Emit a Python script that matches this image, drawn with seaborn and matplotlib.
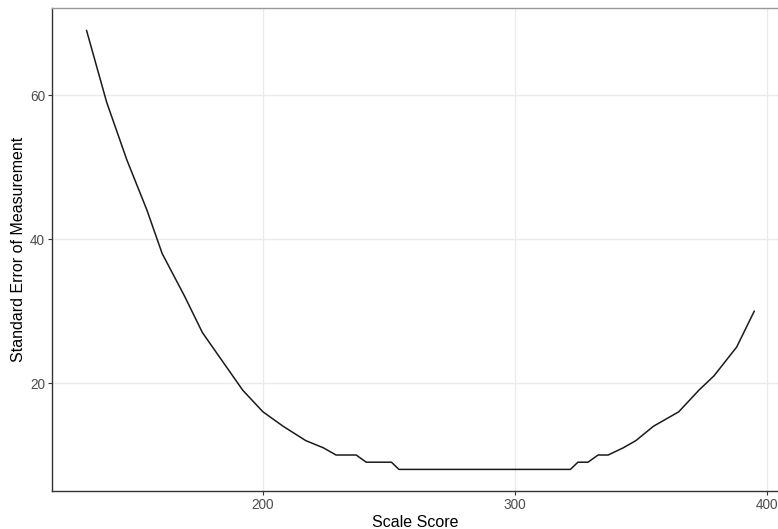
import pandas as pd
import seaborn as sns
import matplotlib.pyplot as plt

scale_score = [130, 138, 146, 154, 160, 169, 176, 184, 192, 200, 208, 217, 224,
               229, 237, 241, 251, 254, 322, 325, 329, 333, 337, 343, 348, 355,
               365, 373, 379, 388, 395]
sem = [69, 59, 51, 44, 38, 32, 27, 23, 19, 16, 14, 12, 11,
       10, 10, 9, 9, 8, 8, 9, 9, 10, 10, 11, 12, 14,
       16, 19, 21, 25, 30]
x_ticks = [200, 300, 400]
y_ticks = [20, 40, 60]

df = pd.DataFrame({"Scale Score": scale_score, "SEM": sem})

sns.set_style("whitegrid")
plt.rcParams['font.family'] = ['Liberation Sans', 'DejaVu Sans']

fig = plt.figure(figsize=(7.78, 5.29), dpi=100)
ax = fig.add_axes([52 / 778, 1 - 491 / 529, 1 - 52 / 778, (491 - 8) / 529])

sns.lineplot(data=df, x="Scale Score", y="SEM", ax=ax, color="#1a1a1a", linewidth=1.1)

ax.set_xlim(116.3, 404.4)
ax.set_ylim(5.0, 72.1)
ax.set_xticks(x_ticks)
ax.set_yticks(y_ticks)
ax.grid(True, color="#ebebeb", linewidth=1.0)
ax.tick_params(axis="both", which="major", length=3, width=0.8, color="#333333",
               labelcolor="#4d4d4d", labelsize=9.8, pad=2, left=True, bottom=True)
ax.set_xlabel("Scale Score", fontsize=11.5, color="black", labelpad=2)
ax.set_ylabel("Standard Error of Measurement", fontsize=11.5, color="black", labelpad=3)

ax.spines["left"].set_color("#333333")
ax.spines["bottom"].set_color("#333333")
ax.spines["left"].set_linewidth(1.0)
ax.spines["bottom"].set_linewidth(1.0)
ax.spines["top"].set_color("#999999")
ax.spines["top"].set_linewidth(1.0)
ax.spines["right"].set_visible(False)

fig.savefig("out.png", dpi=100)
